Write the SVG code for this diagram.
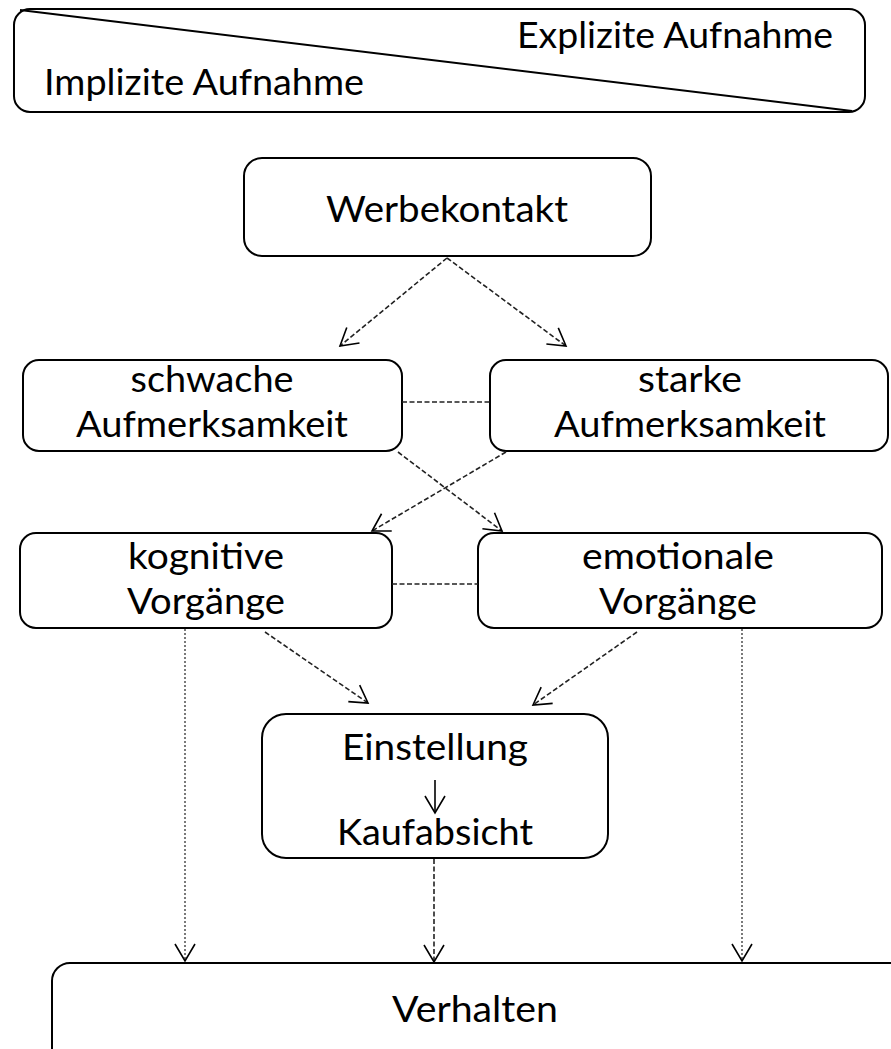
<svg xmlns="http://www.w3.org/2000/svg" width="891" height="1049" viewBox="0 0 891 1049">
<style>
.box{fill:#fff;stroke:#000;stroke-width:2}
.t{font-family:Lato,"Liberation Sans",sans-serif;font-size:36px;fill:#000;text-anchor:middle}
.dash{fill:none;stroke:#222;stroke-width:1.6;stroke-dasharray:5,2.5}
.dot{fill:none;stroke:#333;stroke-width:1.3;stroke-dasharray:2,2}
</style>
<defs>
<marker id="ah" viewBox="0 0 24 24" refX="22" refY="12" markerWidth="24" markerHeight="24" markerUnits="userSpaceOnUse" orient="auto">
<path d="M5,2 L22,12 L5,22" fill="none" stroke="#000" stroke-width="1.6"/>
</marker>
</defs>
<g id="header">
<rect class="box" x="14" y="9" width="851" height="103" rx="16"/>
<line x1="20" y1="10" x2="852" y2="111" stroke="#000" stroke-width="2"/>
<text class="t" x="675" y="48" textLength="316" lengthAdjust="spacingAndGlyphs">Explizite Aufnahme</text>
<text class="t" x="204" y="95" textLength="320" lengthAdjust="spacingAndGlyphs">Implizite Aufnahme</text>
</g>
<g id="werbekontakt">
<rect class="box" x="244" y="158" width="407" height="98" rx="18"/>
<text class="t" x="447" y="222" textLength="242" lengthAdjust="spacingAndGlyphs">Werbekontakt</text>
</g>
<g id="schwache">
<rect class="box" x="23" y="360" width="379" height="91" rx="16"/>
<text class="t" x="212" y="392" textLength="163" lengthAdjust="spacingAndGlyphs">schwache</text>
<text class="t" x="212" y="437" textLength="272" lengthAdjust="spacingAndGlyphs">Aufmerksamkeit</text>
</g>
<g id="starke">
<rect class="box" x="490" y="360" width="398" height="91" rx="16"/>
<text class="t" x="690" y="392" textLength="104" lengthAdjust="spacingAndGlyphs">starke</text>
<text class="t" x="690" y="437" textLength="272" lengthAdjust="spacingAndGlyphs">Aufmerksamkeit</text>
</g>
<g id="kognitive">
<rect class="box" x="20" y="533" width="372" height="95" rx="16"/>
<text class="t" x="206" y="569" textLength="156" lengthAdjust="spacingAndGlyphs">kognitive</text>
<text class="t" x="206" y="614" textLength="158" lengthAdjust="spacingAndGlyphs">Vorgänge</text>
</g>
<g id="emotionale">
<rect class="box" x="478" y="533" width="404" height="95" rx="16"/>
<text class="t" x="678" y="569" textLength="192" lengthAdjust="spacingAndGlyphs">emotionale</text>
<text class="t" x="678" y="614" textLength="158" lengthAdjust="spacingAndGlyphs">Vorgänge</text>
</g>
<g id="einstellung">
<rect class="box" x="262" y="714" width="346" height="144" rx="24"/>
<text class="t" x="435" y="760" textLength="186" lengthAdjust="spacingAndGlyphs">Einstellung</text>
<line x1="435" y1="780" x2="435" y2="813" stroke="#000" stroke-width="1.6" marker-end="url(#ah)"/>
<text class="t" x="435" y="845" textLength="196" lengthAdjust="spacingAndGlyphs">Kaufabsicht</text>
</g>
<g id="verhalten">
<rect class="box" x="52" y="963" width="870" height="110" rx="18"/>
<text class="t" x="475" y="1022" textLength="166" lengthAdjust="spacingAndGlyphs">Verhalten</text>
</g>
<g id="connectors">
<line class="dash" x1="447" y1="258" x2="340" y2="346" marker-end="url(#ah)"/>
<line class="dash" x1="447" y1="258" x2="566" y2="346" marker-end="url(#ah)"/>
<line class="dash" x1="402" y1="402" x2="490" y2="402"/>
<line class="dash" x1="398" y1="452" x2="502" y2="531" marker-end="url(#ah)"/>
<line class="dash" x1="506" y1="452" x2="372" y2="531" marker-end="url(#ah)"/>
<line class="dash" x1="392" y1="584" x2="478" y2="584"/>
<line class="dash" x1="265" y1="632" x2="368" y2="703" marker-end="url(#ah)"/>
<line class="dash" x1="637" y1="632" x2="533" y2="705" marker-end="url(#ah)"/>
<line class="dot" x1="185" y1="629" x2="185" y2="961" marker-end="url(#ah)"/>
<line class="dot" x1="742" y1="629" x2="742" y2="961" marker-end="url(#ah)"/>
<line class="dash" x1="434" y1="859" x2="434" y2="962" marker-end="url(#ah)"/>
</g>
</svg>
